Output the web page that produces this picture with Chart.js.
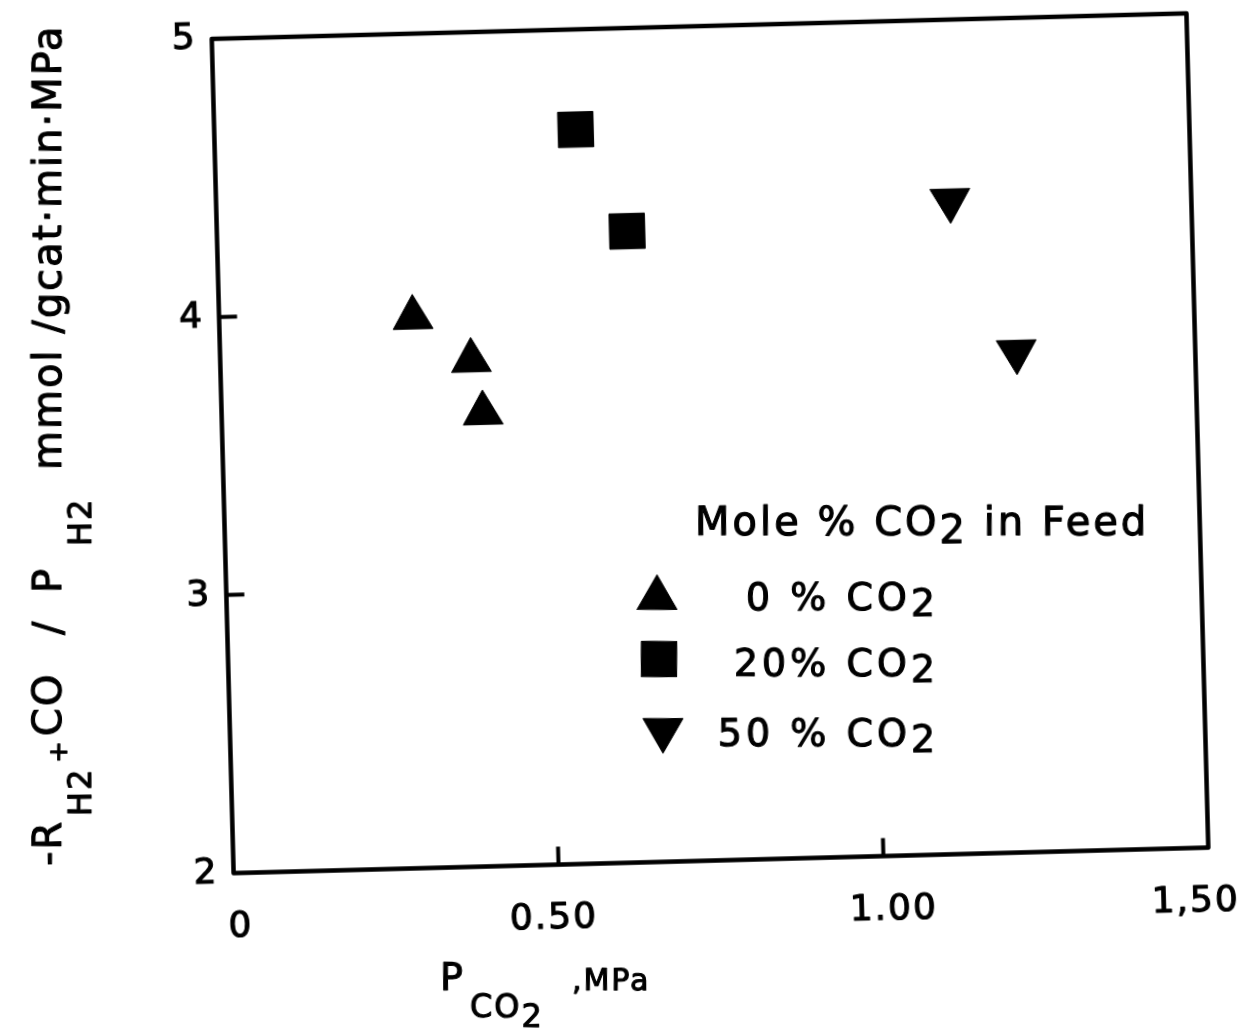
<!DOCTYPE html>
<html>
<head>
<meta charset="utf-8">
<script src="https://cdn.jsdelivr.net/npm/chart.js@4.4.1/dist/chart.umd.min.js"></script>
<style>
  html, body { margin: 0; padding: 0; background: #fff; overflow: hidden; width: 1242px; height: 1036px; }
  /* the sheet sits slightly askew */
  #sheet { position: absolute; left: 0; top: 0; width: 1242px; height: 1036px;
           transform: rotate(-1.5deg); transform-origin: 710px 442px; }
  canvas { display: block; }
</style>
</head>
<body>
<div id="sheet"><canvas id="chart" width="1242" height="1036"></canvas></div>
<script>
// ---- data ----
const seriesNames = ['0 % CO2', '20% CO2', '50 % CO2'];
const pco2_0  = [0.298, 0.386, 0.402];
const rate_0  = [3.98, 3.82, 3.63];
const pco2_20 = [0.556, 0.631];
const rate_20 = [4.64, 4.27];
const pco2_50 = [1.129, 1.225];
const rate_50 = [4.35, 3.80];

const xTickValues = [0, 0.5, 1.0, 1.5];
const xTickLabels = ['0', '0.50', '1.00', '1,50'];
const yTickValues = [2, 3, 4, 5];
const yTickLabels = ['2', '3', '4', '5'];
const xInnerTicks = [0.5, 1.0];
const yInnerTicks = [3, 4];

const legendTitle = 'Mole % CO2 in Feed';

// ---- drawing helpers ----
const FONT = '"DejaVu Sans", sans-serif';
const RAD = Math.PI / 180;
const TILT = 1.5;                 // degrees the sheet is turned
const PIVOT = { x: 710, y: 442 }; // turning point of the sheet
const INK = 1.1;                  // extra stroke for the heavy lettering
const xLabelNudge = [6, -6, 9, -14]; // hand-lettered labels sit a little off their ticks

// draw in upright page coordinates (cancels the sheet tilt)
function upright(ctx, fn) {
  ctx.save();
  ctx.translate(PIVOT.x, PIVOT.y);
  ctx.rotate(TILT * RAD);
  ctx.translate(-PIVOT.x, -PIVOT.y);
  fn();
  ctx.restore();
}

function inkText(ctx, t, x, y) {
  ctx.fillText(t, x, y);
  ctx.strokeText(t, x, y);
}

// split text so the "2" of CO2 sits a little lower
function chemRuns(text) {
  const out = [];
  let rest = text, i;
  while ((i = rest.indexOf('CO2')) >= 0) {
    out.push({ t: rest.slice(0, i + 2), dy: 0 });
    out.push({ t: '2', dy: 1 });
    rest = rest.slice(i + 3);
  }
  if (rest) out.push({ t: rest, dy: 0 });
  return out;
}

function drawRuns(ctx, runs, x, y, align, drop) {
  let w = 0;
  runs.forEach(r => { w += ctx.measureText(r.t).width; });
  let cx = align === 'right' ? x - w : align === 'center' ? x - w / 2 : x;
  ctx.textAlign = 'left';
  runs.forEach(r => {
    inkText(ctx, r.t, cx, y + r.dy * drop);
    cx += ctx.measureText(r.t).width;
  });
}

function marker(ctx, style, radius, rotation, x, y) {
  ctx.save();
  ctx.fillStyle = '#000';
  ctx.strokeStyle = '#000';
  ctx.lineWidth = 1;
  if (Chart.helpers && Chart.helpers.drawPoint) {
    Chart.helpers.drawPoint(ctx, { pointStyle: style, radius: radius, rotation: rotation, borderWidth: 1 }, x, y);
  } else {
    ctx.beginPath();
    if (style === 'rect') {
      const s = radius * Math.SQRT1_2;
      ctx.rect(x - s, y - s, 2 * s, 2 * s);
    } else {
      let a = rotation * RAD;
      for (let k = 0; k < 3; k++) {
        const px = x + Math.sin(a) * radius, py = y - Math.cos(a) * radius;
        if (k) ctx.lineTo(px, py); else ctx.moveTo(px, py);
        a += 2 * Math.PI / 3;
      }
      ctx.closePath();
    }
    ctx.fill();
    ctx.stroke();
  }
  ctx.restore();
}

const datasets = [
  { label: seriesNames[0], data: pco2_0.map((x, i) => ({ x, y: rate_0[i] })),
    pointStyle: 'triangle', pointRadius: 23, rotation: 0 },
  { label: seriesNames[1], data: pco2_20.map((x, i) => ({ x, y: rate_20[i] })),
    pointStyle: 'rect', pointRadius: 25, rotation: 0 },
  { label: seriesNames[2], data: pco2_50.map((x, i) => ({ x, y: rate_50[i] })),
    pointStyle: 'triangle', pointRadius: 23, rotation: 180 }
].map(d => Object.assign(d, {
  backgroundColor: '#000', borderColor: '#000', borderWidth: 1,
  pointHoverRadius: d.pointRadius, pointRotation: d.rotation, showLine: false
}));

// frame, inner ticks, x tick labels, axis titles and key
const sheetPlugin = {
  id: 'sheet',
  beforeDraw(chart) {
    const ctx = chart.ctx;
    ctx.save();
    ctx.fillStyle = '#fff';
    ctx.fillRect(0, 0, chart.width, chart.height);
    ctx.restore();
    ctx.letterSpacing = '3px';
  },
  afterDraw(chart) {
    const ctx = chart.ctx;
    const a = chart.chartArea;
    const xs = chart.scales.x, ys = chart.scales.y;
    ctx.save();
    ctx.letterSpacing = '0px';
    ctx.strokeStyle = '#000';
    ctx.lineWidth = 4.5;
    ctx.lineJoin = 'round';
    ctx.strokeRect(a.left, a.top, a.right - a.left, a.bottom - a.top);
    ctx.lineWidth = 4;
    ctx.beginPath();
    xInnerTicks.forEach(v => {
      const px = xs.getPixelForValue(v);
      ctx.moveTo(px, a.bottom); ctx.lineTo(px, a.bottom - 18);
    });
    yInnerTicks.forEach(v => {
      const py = ys.getPixelForValue(v);
      ctx.moveTo(a.left, py); ctx.lineTo(a.left + 18, py);
    });
    ctx.stroke();

    // x tick labels
    ctx.fillStyle = '#000';
    ctx.lineWidth = INK;
    ctx.lineJoin = 'round';
    ctx.font = '36px ' + FONT;
    ctx.letterSpacing = '2px';
    ctx.textAlign = 'center';
    ctx.textBaseline = 'middle';
    xTickValues.forEach((v, i) => {
      inkText(ctx, xTickLabels[i], xs.getPixelForValue(v) + xLabelNudge[i], a.bottom + 54);
    });
    ctx.restore();

    upright(ctx, () => {
      ctx.save();
      ctx.fillStyle = '#000';
      ctx.strokeStyle = '#000';
      ctx.lineWidth = INK;
      ctx.lineJoin = 'round';
      ctx.textBaseline = 'alphabetic';

      // y-axis title, read bottom to top
      ctx.save();
      ctx.translate(61, 866);
      ctx.rotate(-Math.PI / 2);
      ctx.letterSpacing = '2px';
      const yParts = [
        ['-R', 0, 0, 40],
        ['H2', 50, 30, 32],
        ['+', 103, 6, 26],
        ['CO', 130, 0, 40],
        ['/', 231, 0, 40],
        ['P', 273, 0, 40],
        ['H2', 320, 30, 32],
        ['mmol /gcat·min·MPa', 396, 0, 40]
      ];
      yParts.forEach(p => {
        ctx.font = p[3] + 'px ' + FONT;
        inkText(ctx, p[0], p[1], p[2]);
      });
      ctx.restore();

      // x-axis title
      ctx.letterSpacing = '2px';
      ctx.font = '38px ' + FONT;
      inkText(ctx, 'P', 440, 990);
      ctx.font = '32px ' + FONT;
      drawRuns(ctx, chemRuns('CO2'), 470, 1017, 'left', 10);
      ctx.font = '30px ' + FONT;
      inkText(ctx, ',MPa', 572, 990);

      // key
      ctx.letterSpacing = '3px';
      ctx.font = '40px ' + FONT;
      drawRuns(ctx, chemRuns(legendTitle), 695, 535, 'left', 8);
      const rowBase = [610, 676, 746];
      const rowMarks = [[657, 598], [659, 659], [663, 730]];
      ctx.letterSpacing = '4px';
      ctx.font = '38px ' + FONT;
      chart.data.datasets.forEach((d, i) => {
        marker(ctx, d.pointStyle, d.pointRadius, d.rotation, rowMarks[i][0], rowMarks[i][1]);
        drawRuns(ctx, chemRuns(d.label), 939, rowBase[i], 'right', 6);
      });
      ctx.restore();
    });
  }
};

new Chart(document.getElementById('chart').getContext('2d'), {
  type: 'scatter',
  data: { datasets },
  options: {
    responsive: false,
    animation: false,
    devicePixelRatio: 1,
    events: [],
    layout: { padding: { left: 0, top: 24.5, right: 44.5, bottom: 0 } },
    plugins: { legend: { display: false }, tooltip: { enabled: false } },
    scales: {
      x: {
        type: 'linear', min: 0, max: 1.5,
        afterBuildTicks: s => { s.ticks = xTickValues.map(v => ({ value: v })); },
        afterFit: s => { s.height = 175.5; s.paddingLeft = 0; s.paddingRight = 0; },
        ticks: { display: false },
        grid: { display: false, drawTicks: false },
        border: { display: false }
      },
      y: {
        type: 'linear', min: 2, max: 5,
        afterBuildTicks: s => { s.ticks = yTickValues.map(v => ({ value: v })); },
        afterFit: s => { s.width = 222.5; s.paddingTop = 0; s.paddingBottom = 0; },
        ticks: {
          callback: (v, i) => yTickLabels[i],
          font: { family: FONT, size: 36 }, color: '#000',
          textStrokeColor: '#000', textStrokeWidth: INK,
          padding: 14, autoSkip: false
        },
        grid: { display: false, drawTicks: false },
        border: { display: false }
      }
    }
  },
  plugins: [sheetPlugin]
});
</script>
</body>
</html>
